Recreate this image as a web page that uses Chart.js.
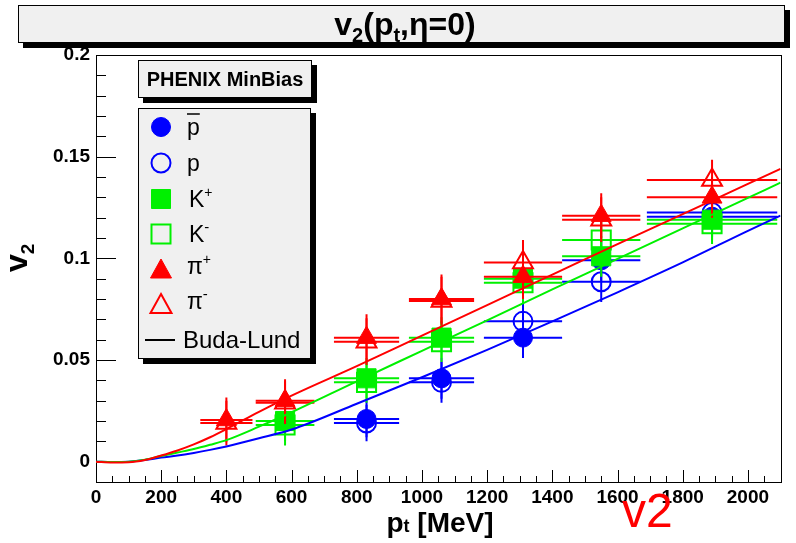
<!DOCTYPE html>
<html><head><meta charset="utf-8">
<script src="https://cdn.jsdelivr.net/npm/chart.js@4/dist/chart.umd.min.js"></script>
<style>html,body{margin:0;padding:0;background:#fff;}#wrap{width:796px;height:543px;position:relative;}</style>
</head><body><div id="wrap"><canvas id="c" width="796" height="543"></canvas></div>
<script>
// ---- data ----
const ptPi = [400, 580, 830, 1060, 1310, 1550, 1890];
const v2PiPlus = [0.0205, 0.030, 0.061, 0.080, 0.091, 0.121, 0.130];
const v2PiMinus = [0.019, 0.029, 0.059, 0.079, 0.098, 0.119, 0.1385];
const ptErrPi = [80, 90, 100, 100, 120, 120, 200];
const v2ErrPi = [0.011, 0.0105, 0.0115, 0.012, 0.011, 0.011, 0.010];

const ptK = [580, 830, 1060, 1310, 1550, 1890];
const v2KPlus = [0.020, 0.041, 0.061, 0.090, 0.101, 0.119];
const v2KMinus = [0.018, 0.039, 0.059, 0.088, 0.109, 0.117];
const ptErrK = [90, 100, 100, 120, 120, 200];
const v2ErrK = [0.010, 0.010, 0.010, 0.010, 0.010, 0.010];

const ptP = [830, 1060, 1310, 1550, 1890];
const v2PBar = [0.021, 0.041, 0.061, 0.099, 0.1205];
const v2P = [0.019, 0.039, 0.069, 0.0885, 0.1225];
const ptErrP = [100, 100, 120, 120, 200];
const v2ErrP = [0.009, 0.010, 0.010, 0.010, 0.010];

// Buda-Lund model curves
const ptModel = [0, 50, 100, 150, 200, 250, 300, 350, 400, 500, 600, 800, 1000, 1200, 1400, 1600, 1800, 2000, 2100];
const v2ModelPi = [0, -0.0004, -0.0003, 0.0008, 0.003, 0.0055, 0.0085, 0.012, 0.016, 0.0245, 0.0325, 0.047, 0.062, 0.077, 0.092, 0.107, 0.1217, 0.1366, 0.144];
const v2ModelK  = [0, -0.0002, 0, 0.001, 0.0028, 0.0045, 0.0062, 0.0083, 0.0106, 0.0172, 0.0243, 0.0395, 0.0545, 0.0695, 0.0847, 0.0997, 0.1147, 0.1297, 0.1372];
const v2ModelP  = [0, -0.0002, 0, 0.0008, 0.002, 0.003, 0.0043, 0.0058, 0.0075, 0.0115, 0.0158, 0.0285, 0.0415, 0.055, 0.069, 0.0833, 0.098, 0.1135, 0.121];

const xTickValues = [0, 200, 400, 600, 800, 1000, 1200, 1400, 1600, 1800, 2000];
const xTickLabels = ['0', '200', '400', '600', '800', '1000', '1200', '1400', '1600', '1800', '2000'];
const yTickValues = [0, 0.05, 0.1, 0.15, 0.2];
const yTickLabels = ['0', '0.05', '0.1', '0.15', '0.2'];

const titleText = ['v', '2', '(p', 't', ',η=0)'];
const xTitle = ['p', 't', ' [MeV]'];
const yTitle = ['v', '2'];
const boxTitle = 'PHENIX MinBias';
const legendLabels = ['p', 'p', 'K', 'K', 'π', 'π', 'Buda-Lund'];
const annotation = 'v2';

const RED = '#ff0000', GREEN = '#00f000', BLUE = '#0000ff';
const FONT = "'Liberation Sans', Arial, Helvetica, sans-serif";

const mk = (xs, ys) => xs.map((x, i) => ({x, y: ys[i]}));

function markerDs(label, xs, ys, ex, ey, color, style, filled, order) {
  const r = style === 'circle' ? 9.5 : (style === 'rect' ? 13.5 : 11.5);
  return {
    label, data: mk(xs, ys), errX: ex, errY: ey,
    pointStyle: style, pointRadius: r, pointHoverRadius: r,
    backgroundColor: filled ? color : 'rgba(0,0,0,0)',
    borderColor: color, borderWidth: filled ? 1 : 2,
    showLine: false, order
  };
}
function curveDs(label, ys, color, order) {
  return {
    label, data: mk(ptModel, ys), showLine: true, borderColor: color, borderWidth: 2,
    pointRadius: 0, fill: false, cubicInterpolationMode: 'monotone', order
  };
}

const errorBars = {
  id: 'errorBars',
  beforeDatasetDraw(chart, args) {
    const ds = chart.data.datasets[args.index];
    if (!ds.errX) return;
    const {ctx, chartArea} = chart;
    const xs = chart.scales.x, ys = chart.scales.y;
    ctx.save();
    ctx.beginPath();
    ctx.rect(chartArea.left, chartArea.top, chartArea.right - chartArea.left, chartArea.bottom - chartArea.top);
    ctx.clip();
    ctx.strokeStyle = ds.borderColor;
    ctx.lineWidth = 2;
    ds.data.forEach((p, i) => {
      const px = xs.getPixelForValue(p.x), py = ys.getPixelForValue(p.y);
      const x0 = xs.getPixelForValue(p.x - ds.errX[i]), x1 = xs.getPixelForValue(p.x + ds.errX[i]);
      const y0 = ys.getPixelForValue(p.y - ds.errY[i]), y1 = ys.getPixelForValue(p.y + ds.errY[i]);
      ctx.beginPath();
      ctx.moveTo(x0, py); ctx.lineTo(x1, py);
      ctx.moveTo(px, y0); ctx.lineTo(px, y1);
      ctx.stroke();
    });
    ctx.restore();
  }
};

const frameTicks = {
  id: 'frameTicks',
  beforeDatasetsDraw(chart) {
    const {ctx, chartArea: a} = chart;
    const xs = chart.scales.x, ys = chart.scales.y;
    ctx.save();
    ctx.strokeStyle = '#000';
    ctx.lineWidth = 1;
    ctx.strokeRect(Math.round(a.left) + 0.5, Math.round(a.top) + 0.5, Math.round(a.right - a.left), Math.round(a.bottom - a.top));
    ctx.beginPath();
    for (let v = 0; v <= 2100; v += 50) {
      const px = Math.round(xs.getPixelForValue(v)) + 0.5;
      const len = (v % 200 === 0) ? 12 : 6;
      ctx.moveTo(px, a.bottom); ctx.lineTo(px, a.bottom - len);
    }
    for (let k = -1; k <= 20; k++) {
      const v = k / 100;
      const py = Math.round(ys.getPixelForValue(v)) + 0.5;
      const len = (k % 5 === 0) ? 20 : 10;
      ctx.moveTo(a.left, py); ctx.lineTo(a.left + len, py);
    }
    ctx.stroke();
    ctx.restore();
  }
};

function richText(ctx, parts, x, y, align) {
  // parts: [text, size, dy, weight]
  let w = 0;
  parts.forEach(p => { ctx.font = `${p[3] || 'bold'} ${p[1]}px ${FONT}`; w += ctx.measureText(p[0]).width; });
  let cx = align === 'center' ? x - w / 2 : x;
  parts.forEach(p => {
    ctx.font = `${p[3] || 'bold'} ${p[1]}px ${FONT}`;
    ctx.fillText(p[0], cx, y + p[2]);
    cx += ctx.measureText(p[0]).width;
  });
}

function shadowBox(ctx, x, y, w, h, off) {
  ctx.fillStyle = '#000';
  ctx.fillRect(x + off, y + off, w, h);
  ctx.fillStyle = '#f0f0f0';
  ctx.fillRect(x, y, w, h);
  ctx.strokeStyle = '#000';
  ctx.lineWidth = 1;
  ctx.strokeRect(x + 0.5, y + 0.5, w - 1, h - 1);
}

function marker(ctx, style, x, y, color, filled) {
  ctx.save();
  ctx.fillStyle = color; ctx.strokeStyle = color; ctx.lineWidth = filled ? 1 : 2;
  ctx.beginPath();
  if (style === 'circle') ctx.arc(x, y, 9.5, 0, Math.PI * 2);
  else if (style === 'rect') ctx.rect(x - 9.5, y - 9.5, 19, 19);
  else { ctx.moveTo(x, y - 11); ctx.lineTo(x + 10.5, y + 8); ctx.lineTo(x - 10.5, y + 8); ctx.closePath(); }
  if (filled) ctx.fill();
  ctx.stroke();
  ctx.restore();
}

const decorations = {
  id: 'decorations',
  afterDraw(chart) {
    const ctx = chart.ctx;
    ctx.save();
    ctx.textBaseline = 'alphabetic';
    ctx.textAlign = 'left';
    // title box
    shadowBox(ctx, 18, 5, 767, 38, 5);
    ctx.fillStyle = '#000';
    richText(ctx, [[titleText[0], 32, 0], [titleText[1], 20, 7], [titleText[2], 32, 0], [titleText[3], 20, 7], [titleText[4], 32, 0]], 405, 35, 'center');
    // y title
    ctx.save();
    ctx.translate(27, 272);
    ctx.rotate(-Math.PI / 2);
    richText(ctx, [[yTitle[0], 32, 0], [yTitle[1], 19, 7]], 0, 0, 'left');
    ctx.restore();
    // x title
    richText(ctx, [[xTitle[0], 28, 0], [xTitle[1], 18, 0], [xTitle[2], 28, 0]], 440, 532, 'center');
    // PHENIX box
    shadowBox(ctx, 138, 60, 174, 38, 5);
    ctx.fillStyle = '#000';
    ctx.font = `bold 20px ${FONT}`;
    ctx.textAlign = 'center';
    ctx.fillText(boxTitle, 225, 86);
    ctx.textAlign = 'left';
    // legend box
    shadowBox(ctx, 138, 108, 173, 251, 5);
    const mx = 161;
    const rows = [127, 163, 199, 234, 270, 305, 340];
    marker(ctx, 'circle', mx, rows[0], BLUE, true);
    marker(ctx, 'circle', mx, rows[1], BLUE, false);
    marker(ctx, 'rect', mx, rows[2], GREEN, true);
    marker(ctx, 'rect', mx, rows[3], GREEN, false);
    marker(ctx, 'triangle', mx, rows[4], RED, true);
    marker(ctx, 'triangle', mx, rows[5], RED, false);
    ctx.strokeStyle = '#000'; ctx.lineWidth = 2;
    ctx.beginPath(); ctx.moveTo(145, rows[6]); ctx.lineTo(175, rows[6]); ctx.stroke();
    ctx.fillStyle = '#000';
    const tx = 187;
    const fs = 23;
    // p-bar
    richText(ctx, [[legendLabels[0], fs, 0, 'normal']], tx, rows[0] + 8, 'left');
    ctx.font = `normal ${fs}px ${FONT}`;
    const pw = ctx.measureText(legendLabels[0]).width;
    ctx.lineWidth = 1.5; ctx.beginPath(); ctx.moveTo(tx, 114); ctx.lineTo(tx + pw, 114); ctx.stroke();
    richText(ctx, [[legendLabels[1], fs, 0, 'normal']], tx, rows[1] + 8, 'left');
    richText(ctx, [[legendLabels[2], fs, 0, 'normal'], ['+', 14, -10, 'normal']], tx + 2, rows[2] + 8, 'left');
    richText(ctx, [[legendLabels[3], fs, 0, 'normal'], ['-', 15, -10, 'normal']], tx + 2, rows[3] + 8, 'left');
    richText(ctx, [[legendLabels[4], fs, 0, 'normal'], ['+', 14, -10, 'normal']], tx, rows[4] + 4, 'left');
    richText(ctx, [[legendLabels[5], fs, 0, 'normal'], ['-', 15, -10, 'normal']], tx, rows[5] + 4, 'left');
    richText(ctx, [[legendLabels[6], 24, 0, 'normal']], 183, rows[6] + 8, 'left');
    // red annotation
    ctx.fillStyle = RED;
    ctx.font = `normal 48px ${FONT}`;
    ctx.fillText(annotation, 622, 527);
    ctx.restore();
  }
};

const tickFont = {family: FONT, size: 19, weight: 'bold'};

new Chart(document.getElementById('c'), {
  type: 'scatter',
  data: {
    datasets: [
      curveDs('Buda-Lund π', v2ModelPi, RED, 1),
      curveDs('Buda-Lund K', v2ModelK, GREEN, 2),
      curveDs('Buda-Lund p', v2ModelP, BLUE, 3),
      markerDs('π+', ptPi, v2PiPlus, ptErrPi, v2ErrPi, RED, 'triangle', true, 5),
      markerDs('π-', ptPi, v2PiMinus, ptErrPi, v2ErrPi, RED, 'triangle', false, 6),
      markerDs('K+', ptK, v2KPlus, ptErrK, v2ErrK, GREEN, 'rect', true, 7),
      markerDs('K-', ptK, v2KMinus, ptErrK, v2ErrK, GREEN, 'rect', false, 8),
      markerDs('pbar', ptP, v2PBar, ptErrP, v2ErrP, BLUE, 'circle', true, 9),
      markerDs('p', ptP, v2P, ptErrP, v2ErrP, BLUE, 'circle', false, 10)
    ]
  },
  options: {
    responsive: false, animation: false, devicePixelRatio: 1,
    layout: {padding: {left: 0, top: 55, right: 12, bottom: 0}},
    plugins: {legend: {display: false}, tooltip: {enabled: false}, title: {display: false}},
    events: [],
    scales: {
      x: {
        type: 'linear', min: 0, max: 2100,
        grid: {display: false, drawTicks: false}, border: {display: false},
        afterFit: s => { s.height = 61; },
        afterBuildTicks: s => { s.ticks = xTickValues.map(v => ({value: v})); },
        ticks: {autoSkip: false, maxRotation: 0, minRotation: 0, padding: 4, color: '#000', font: tickFont,
          callback: (v, i) => xTickLabels[i]}
      },
      y: {
        type: 'linear', min: -0.01, max: 0.2,
        grid: {display: false, drawTicks: false}, border: {display: false},
        afterFit: s => { s.width = 96; },
        afterBuildTicks: s => { s.ticks = yTickValues.map(v => ({value: v})); },
        ticks: {autoSkip: false, padding: 6, color: '#000', font: tickFont,
          callback: (v, i) => yTickLabels[i]}
      }
    }
  },
  plugins: [frameTicks, errorBars, decorations]
});
</script>
</body></html>
